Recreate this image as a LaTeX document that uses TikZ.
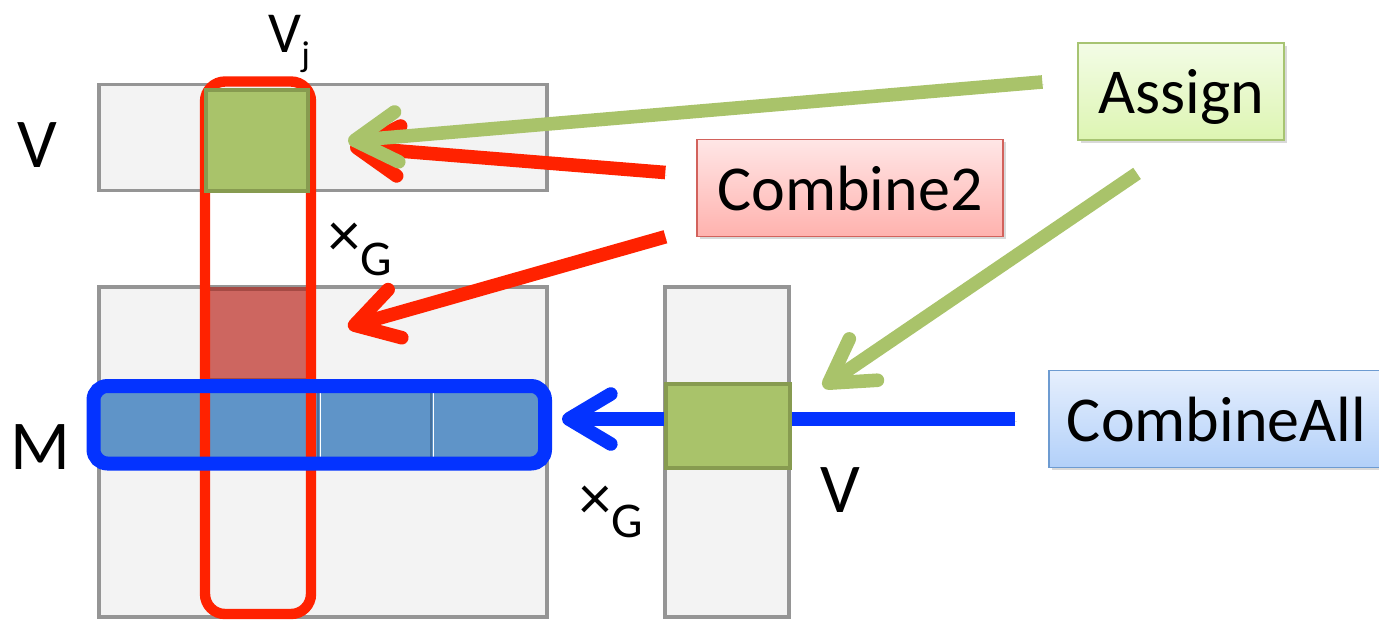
\documentclass[tikz,border=0pt]{standalone}
\usepackage{fontspec}
\setmainfont{Carlito}
\usetikzlibrary{arrows.meta,shadows}

\definecolor{framegray}{HTML}{959595}
\definecolor{cellgray}{HTML}{F3F3F3}
\definecolor{leafgreen}{HTML}{A9C36A}
\definecolor{leafedge}{HTML}{879B50}
\definecolor{hotred}{HTML}{FF2200}
\definecolor{brightblue}{HTML}{0433FF}
\definecolor{rowblue}{HTML}{5F94C8}
\definecolor{rowedge}{HTML}{46709C}
\definecolor{cellred}{HTML}{CD6660}
\definecolor{celledge}{HTML}{A54A44}
\definecolor{assigntop}{HTML}{F3FCE6}
\definecolor{assignbot}{HTML}{DDF5B2}
\definecolor{assignedge}{HTML}{A7C472}
\definecolor{combtop}{HTML}{FFE6E6}
\definecolor{combbot}{HTML}{FFB2AE}
\definecolor{combedge}{HTML}{D2625C}
\definecolor{alltop}{HTML}{E6EFFD}
\definecolor{allbot}{HTML}{B2D0F9}
\definecolor{alledge}{HTML}{6D9BD1}

\begin{document}
\begin{tikzpicture}[x=0.5pt,y=-0.5pt,
  framebox/.style={draw=framegray, fill=cellgray, line width=1.75pt},
  entry/.style={fill=leafgreen, draw=leafedge, line width=2pt},
  rowcell/.style={fill=rowblue, draw=rowedge, line width=0.8pt},
  bigletter/.style={font=\fontsize{35}{40}\selectfont, inner sep=0pt},
  oplabel/.style={font=\fontsize{32}{36}\selectfont, inner sep=0pt, anchor=base west},
  opbox/.style={draw, line width=0.8pt, font=\fontsize{32}{38}\selectfont,
    inner sep=0pt, text depth=0pt, minimum height=48.5pt,
    drop shadow={shadow xshift=1.3pt, shadow yshift=-1.3pt, opacity=0.3}},
  fat arrow/.style={line width=6.8pt,
    -{Straight Barb[round,length=21pt,width=25pt]},
    preaction={draw=black, opacity=0.12,
      transform canvas={xshift=0.8pt,yshift=-1.4pt}}}
]
\useasboundingbox (0,0) rectangle (1379,622);

% vectors and matrix
\draw[framebox] (99,84.5) rectangle (547,190.5);
\draw[framebox] (99,287) rectangle (547,617);
\draw[framebox] (665,287) rectangle (789,617);

% partial result cell of the matrix
\draw[fill=cellred, draw=celledge, line width=2pt] (206,289) rectangle (308,380);

% highlighted matrix row
\foreach \a/\b in {99/205,205/318,318/431,431/545}
  \draw[rowcell] (\a,386) rectangle (\b,463);
\draw[white, line width=0.5pt] (320,388) -- (320,461);
\draw[white, line width=0.5pt] (433,388) -- (433,461);

% highlighted column
\draw[hotred, line width=5.2pt, rounded corners=10pt] (205,81.5) rectangle (311,614);

% assigned entry of the top vector
\draw[entry] (206,90) rectangle (308,191);

% row outline
\draw[brightblue, line width=7pt, rounded corners=7pt] (93.5,386) rectangle (545,463.5);

% labels
\node[bigletter] (lblVtop) at (37,145) {V};
\node[bigletter] (lblM) at (40,447) {M};
\node[bigletter] (lblVright) at (840,490) {V};
\node[oplabel, font=\fontsize{29}{32}\selectfont] (lblVj) at (268,52)
  {V\raisebox{-7pt}{\fontsize{18}{18}\selectfont j}};
\node[oplabel] (lblXtop) at (328,256)
  {×\raisebox{-9.5pt}{\fontsize{25}{25}\selectfont G}};
\node[oplabel] (lblXbot) at (579,519)
  {×\raisebox{-9pt}{\fontsize{25}{25}\selectfont G}};

% operation boxes
\node[opbox, top color=assigntop, bottom color=assignbot, draw=assignedge,
  minimum width=103pt] (assign) at (1181,91.5) {Assign};
\node[opbox, top color=combtop, bottom color=combbot, draw=combedge,
  minimum width=153pt] (comb2) at (850,188) {Combine2};
\node[opbox, top color=alltop, bottom color=allbot, draw=alledge,
  minimum width=167.5pt] (comball) at (1216.5,419) {CombineAll};

% arrow targets
\coordinate (tipRedTop) at (350,147);
\coordinate (tipGreenTop) at (348,141);
\coordinate (tipRedLow) at (348,327);
\coordinate (tipGreenLow) at (823,387);
\coordinate (tipBlue) at (562,419);

% connectors
\draw[fat arrow, hotred, shorten <=15.5pt] ([yshift=6.5pt]comb2.west) -- (tipRedTop);
\draw[fat arrow, leafgreen, shorten <=17.5pt] ([yshift=6.25pt]assign.west) -- (tipGreenTop);
\draw[fat arrow, hotred, shorten <=16pt] ([yshift=-20pt]comb2.west) -- (tipRedLow);
\draw[fat arrow, brightblue, shorten <=16.5pt] (comball.west) -- (tipBlue);

% assigned entry of the right vector
\draw[entry] (666,384) rectangle (790,468);

\draw[fat arrow, leafgreen, shorten <=29pt] ([xshift=2pt]assign.south) -- (tipGreenLow);
\end{tikzpicture}
\end{document}
